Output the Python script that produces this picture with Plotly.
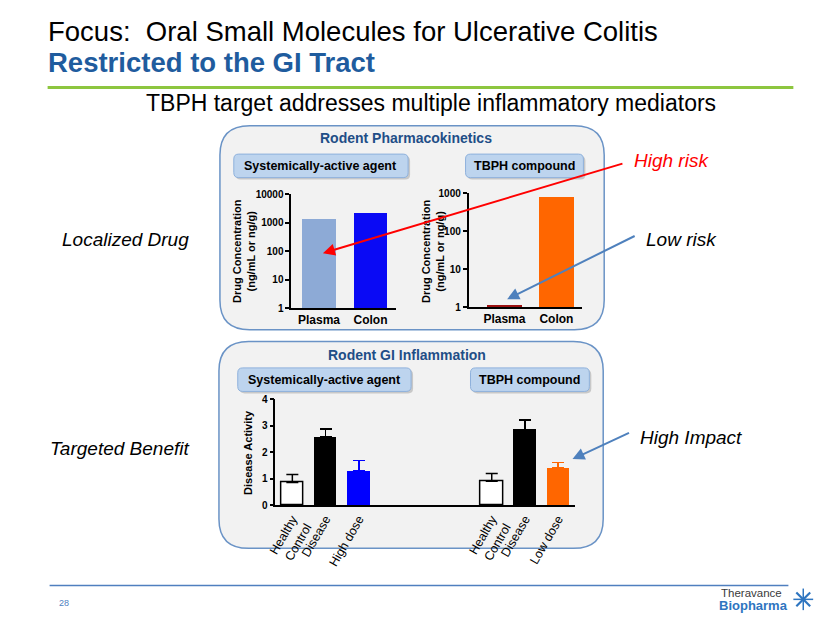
import plotly.graph_objects as go

W, H = 830, 623

# ---------------- data ----------------
pk_categories = ["Plasma", "Colon"]
pk_systemic_values = [1370, 2200]
pk_tbph_values = [1.1, 790]
pk_log_ticks = [1, 10, 100, 1000, 10000]
pk_log_ticks_tbph = [1, 10, 100, 1000]

gi_systemic_labels = ["Healthy<br>Control", "Disease", "High dose"]
gi_tbph_labels = ["Healthy<br>Control", "Disease", "Low dose"]
gi_systemic_values = [0.86, 2.57, 1.30]
gi_systemic_err = [0.30, 0.30, 0.38]
gi_tbph_values = [0.90, 2.86, 1.40]
gi_tbph_err = [0.30, 0.36, 0.22]
gi_ticks = [0, 1, 2, 3, 4]

FONT = "Liberation Sans, Arial, sans-serif"
NARROW = "Liberation Sans Narrow, Arial Narrow, Liberation Sans, Arial, sans-serif"


def px(x):
    return x / W


def py(y):
    return 1 - y / H


def rrect(x0, y0, x1, y1, r):
    pts = [
        ("M", [(x0 + r, y0)]), ("L", [(x1 - r, y0)]), ("Q", [(x1, y0), (x1, y0 + r)]),
        ("L", [(x1, y1 - r)]), ("Q", [(x1, y1), (x1 - r, y1)]), ("L", [(x0 + r, y1)]),
        ("Q", [(x0, y1), (x0, y1 - r)]), ("L", [(x0, y0 + r)]), ("Q", [(x0, y0), (x0 + r, y0)]),
    ]
    s = ""
    for cmd, cs in pts:
        s += cmd + " " + " ".join(f"{px(a):.5f},{py(b):.5f}" for a, b in cs) + " "
    return s + "Z"


fig = go.Figure()

fig.add_trace(go.Bar(
    x=list(range(len(pk_categories))), y=pk_systemic_values,
    marker=dict(color=["#8DAAD6", "#0A0AF5"], line=dict(width=0)),
    width=0.65, xaxis="x", yaxis="y", showlegend=False, hoverinfo="skip"))

fig.add_trace(go.Bar(
    x=list(range(len(pk_categories))), y=pk_tbph_values,
    marker=dict(color=["#9B1010", "#FF6600"], line=dict(width=0)),
    width=0.67, xaxis="x2", yaxis="y2", showlegend=False, hoverinfo="skip"))

sys_pos = [0, 1, 2]
tbph_pos = [6, 7, 8]
for i in range(3):
    col_sys = ["#FFFFFF", "#000000", "#0000FF"][i]
    col_tb = ["#FFFFFF", "#000000", "#FF6600"][i]
    err_sys = ["#000000", "#000000", "#0000FF"][i]
    err_tb = ["#000000", "#000000", "#FF6600"][i]
    fig.add_trace(go.Bar(
        x=[sys_pos[i]], y=[gi_systemic_values[i]], width=0.68,
        marker=dict(color=col_sys, line=dict(color="#000000", width=1.5 if i == 0 else 0)),
        error_y=dict(type="data", symmetric=False, array=[gi_systemic_err[i]], arrayminus=[0],
                     color=err_sys, thickness=1.5, width=6),
        xaxis="x3", yaxis="y3", showlegend=False, hoverinfo="skip"))
    fig.add_trace(go.Bar(
        x=[tbph_pos[i]], y=[gi_tbph_values[i]], width=0.68,
        marker=dict(color=col_tb, line=dict(color="#000000", width=1.5 if i == 0 else 0)),
        error_y=dict(type="data", symmetric=False, array=[gi_tbph_err[i]], arrayminus=[0],
                     color=err_tb, thickness=1.5, width=6),
        xaxis="x3", yaxis="y3", showlegend=False, hoverinfo="skip"))

tickfont_b = dict(family=FONT, size=10, color="#000000")
axis_common = dict(showline=True, linecolor="#000000", linewidth=1.5, showgrid=False,
                   zeroline=False, ticks="outside", ticklen=4, tickcolor="#000000", tickwidth=1.5)

fig.update_layout(
    width=W, height=H, autosize=False, margin=dict(l=0, r=0, t=0, b=0, pad=0),
    paper_bgcolor="#FFFFFF", plot_bgcolor="rgba(0,0,0,0)", bargap=0,
    font=dict(family=FONT, color="#000000"),
    xaxis=dict(domain=[px(286), px(392)], range=[-0.54, 1.5], showline=True, linecolor="#000000",
               linewidth=1.5, showgrid=False, zeroline=False, ticks="",
               tickvals=[0, 1], ticktext=[f"<b>{c}</b>" for c in pk_categories],
               tickfont=dict(family=FONT, size=12, color="#000000"), anchor="y", fixedrange=True),
    yaxis=dict(domain=[py(308), py(192)], type="log", range=[0, 4], **axis_common,
               tickvals=pk_log_ticks, ticktext=[f"<b>{t}</b>" for t in pk_log_ticks],
               tickfont=tickfont_b, anchor="x", fixedrange=True),
    xaxis2=dict(domain=[px(465), px(580)], range=[-0.69, 1.5], showline=True, linecolor="#000000",
                linewidth=1.5, showgrid=False, zeroline=False, ticks="",
                tickvals=[0, 1], ticktext=[f"<b>{c}</b>" for c in pk_categories],
                tickfont=dict(family=FONT, size=12, color="#000000"), anchor="y2", fixedrange=True),
    yaxis2=dict(domain=[py(307), py(191)], type="log", range=[0, 3], **axis_common,
                tickvals=pk_log_ticks_tbph, ticktext=[f"<b>{t}</b>" for t in pk_log_ticks_tbph],
                tickfont=tickfont_b, anchor="x2", fixedrange=True),
    xaxis3=dict(domain=[px(270), px(573)], range=[-0.51, 8.52], showline=True, linecolor="#000000",
                linewidth=1.5, showgrid=False, zeroline=False, ticks="",
                tickvals=sys_pos + tbph_pos, ticktext=gi_systemic_labels + gi_tbph_labels,
                tickangle=-60, tickfont=dict(family=FONT, size=12.5, color="#000000"),
                anchor="y3", fixedrange=True),
    yaxis3=dict(domain=[py(509), py(401)], range=[0, 4], **axis_common,
                tickvals=gi_ticks, ticktext=[f"<b>{t}</b>" for t in gi_ticks],
                tickfont=tickfont_b, anchor="x3", fixedrange=True),
)

shapes = []
for (x0, y0, x1, y1) in [(214, 122, 602, 330), (213, 342, 601, 553)]:
    shapes.append(dict(type="path", path=rrect(x0, y0, x1, y1, 30), xref="paper", yref="paper",
                       fillcolor="#F2F2F2", line=dict(color="#6A93C6", width=1.5), layer="below"))
boxes = [(228, 151, 404, 175), (462, 151, 581, 175), (232, 369, 407, 393), (467, 369, 587, 393)]
for (x0, y0, x1, y1) in boxes:
    shapes.append(dict(type="path", path=rrect(x0 + 2, y0 + 2, x1 + 2, y1 + 2, 5), xref="paper",
                       yref="paper", fillcolor="#C8C8C8", line=dict(width=0), layer="below"))
    shapes.append(dict(type="path", path=rrect(x0, y0, x1, y1, 5), xref="paper", yref="paper",
                       fillcolor="#BDD4EE", line=dict(color="#8EB1DC", width=1), layer="below"))
# green separator and footer lines
shapes.append(dict(type="line", xref="paper", yref="paper", x0=px(40), x1=px(793), y0=py(83), y1=py(83),
                   line=dict(color="#8DC63F", width=3)))
shapes.append(dict(type="line", xref="paper", yref="paper", x0=px(42), x1=px(788), y0=py(591), y1=py(591),
                   line=dict(color="#4F7FBF", width=1.5)))
# logo star
cx, cy = 803, 605
for (dx, dy, w) in [(10, 0, 1.5), (0, 11, 1.5), (7, 7, 2.2), (7, -7, 2.2)]:
    shapes.append(dict(type="line", xref="paper", yref="paper", x0=px(cx - dx), x1=px(cx + dx),
                       y0=py(cy - dy), y1=py(cy + dy), line=dict(color="#2E75C0", width=w)))
fig.update_layout(shapes=shapes)

ann = []


def text(x, y, t, size, color="#000000", family=FONT, xanchor="center", **kw):
    ann.append(dict(x=px(x), y=py(y), xref="paper", yref="paper", text=t, showarrow=False,
                    font=dict(size=size, color=color, family=family), xanchor=xanchor,
                    yanchor="middle", **kw))


text(38, 26, "Focus:  Oral Small Molecules for Ulcerative Colitis", 27.5, family=NARROW, xanchor="left")
text(38, 58, "<b>Restricted to the GI Tract</b>", 27.5, color="#1F5C9E", family=NARROW, xanchor="left")
text(427, 99, "TBPH target addresses multiple inflammatory mediators", 23, family=NARROW)

text(402, 135, "<b>Rodent Pharmacokinetics</b>", 14, color="#1F4E87")
text(403, 356, "<b>Rodent GI Inflammation</b>", 14, color="#1F4E87")
box_texts = ["Systemically-active agent", "TBPH compound", "Systemically-active agent", "TBPH compound"]
for (x0, y0, x1, y1), t in zip(boxes, box_texts):
    text((x0 + x1) / 2, (y0 + y1) / 2, f"<b>{t}</b>", 12.5)

text(238, 250, "<b>Drug Concentration<br>(ng/mL or ng/g)</b>", 11, textangle=-90)
text(429, 250, "<b>Drug Concentration<br>(ng/mL or ng/g)</b>", 11, textangle=-90)
text(243, 455, "<b>Disease Activity</b>", 11, textangle=-90)

text(185, 238, "<i>Localized Drug</i>", 19, xanchor="right")
text(185, 451, "<i>Targeted Benefit</i>", 19, xanchor="right")
text(630, 158, "<i>High risk</i>", 19, color="#FF0000", xanchor="left")
text(642, 238, "<i>Low risk</i>", 19, xanchor="left")
text(636, 440, "<i>High Impact</i>", 19, xanchor="left")

text(49, 609, "28", 9, color="#4F7FBF", xanchor="left")
text(784, 599, "Theravance", 11.5, color="#3A3A3A", family=NARROW, xanchor="right")
text(790, 611, "<b>Biopharma</b>", 13, color="#2E75C0", family=NARROW, xanchor="right")

for (tx, ty, sx, sy, c) in [(318, 252, 619, 162, "#FF0000"), (504, 299, 633, 235, "#4F81BD"),
                            (570, 462, 628, 435, "#4F81BD")]:
    ann.append(dict(x=px(tx), y=py(ty), xref="paper", yref="paper", text="", showarrow=True,
                    ax=sx - tx, ay=sy - ty, axref="pixel", ayref="pixel", arrowhead=2, arrowsize=1.2,
                    arrowwidth=2, arrowcolor=c))

fig.update_layout(annotations=ann)
fig.write_html("out.html", config={"displayModeBar": False, "responsive": False},
               post_script="document.body.style.margin='0';document.body.style.overflow='hidden';")
